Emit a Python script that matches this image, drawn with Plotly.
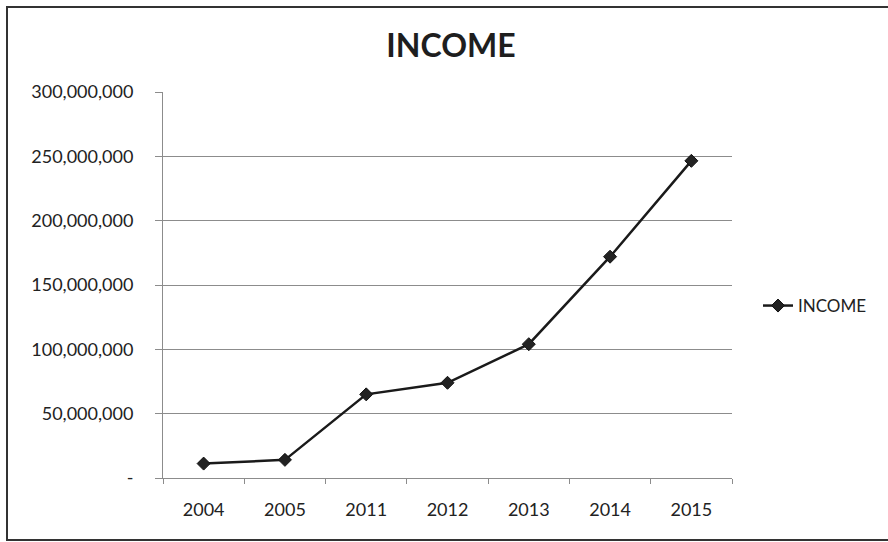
import plotly.graph_objects as go

# Income by year
years = ["2004", "2005", "2011", "2012", "2013", "2014", "2015"]
income = [11_200_000, 14_100_000, 65_000_000, 74_000_000, 104_000_000, 172_000_000, 246_500_000]

# Y axis ticks (accounting style: zero shown as a dash)
y_tickvals = [0, 50_000_000, 100_000_000, 150_000_000, 200_000_000, 250_000_000, 300_000_000]
y_ticktext = ["-", "50,000,000", "100,000,000", "150,000,000", "200,000,000", "250,000,000", "300,000,000"]

W, H = 888, 542
L, R, T, B = 163, 156, 92, 64
pw, ph = W - L - R, H - T - B

def px_x(x):
    return (x - L) / pw

def px_y(y):
    return (H - B - y) / ph

FONT = "Lato, Calibri, Open Sans, sans-serif"
INK = "#222222"
GRID = "#8c8c8c"

fig = go.Figure()
fig.add_trace(go.Scatter(
    x=years, y=income, name="INCOME",
    mode="lines+markers",
    line=dict(color="#1a1a1a", width=2.5),
    marker=dict(symbol="diamond", size=10, color="#222222",
                line=dict(color="#111111", width=1)),
))

fig.update_layout(
    width=W, height=H,
    margin=dict(l=L, r=R, t=T, b=B),
    paper_bgcolor="white", plot_bgcolor="white",
    font=dict(family=FONT, color=INK),
    title=dict(text="<b>INCOME</b>", x=px_x(451), xref="paper", xanchor="center",
               y=1 - 45.5 / H, yanchor="middle",
               font=dict(size=32, family=FONT, color="#1e1e1e")),
    showlegend=True,
    legend=dict(x=px_x(758), y=px_y(306), xanchor="left", yanchor="middle",
                font=dict(size=17, family=FONT, color=INK),
                bgcolor="rgba(0,0,0,0)", borderwidth=0, itemwidth=30),
    xaxis=dict(
        type="category", showgrid=False,
        showline=True, linecolor=GRID, linewidth=1,
        ticks="outside", tickson="boundaries", ticklen=5, tickcolor=GRID,
        tickfont=dict(size=18, family=FONT, color=INK),
        ticklabelstandoff=15,
        range=[-0.5, len(years) - 0.5],
    ),
    yaxis=dict(
        range=[0, 300_000_000],
        tickvals=y_tickvals, ticktext=y_ticktext,
        showgrid=True, gridcolor=GRID, gridwidth=1,
        showline=True, linecolor=GRID, linewidth=1,
        ticks="outside", ticklen=7, tickcolor=GRID,
        tickfont=dict(size=18, family=FONT, color=INK),
        ticklabelstandoff=18,
        zeroline=False,
    ),
    shapes=[
        # chart frame (right edge runs past the page)
        dict(type="rect", xref="paper", yref="paper",
             x0=px_x(7), x1=px_x(1000), y0=px_y(540), y1=px_y(7),
             line=dict(color="#333333", width=2), fillcolor="rgba(0,0,0,0)",
             layer="below"),
    ],
)

fig.write_html("out.html")
